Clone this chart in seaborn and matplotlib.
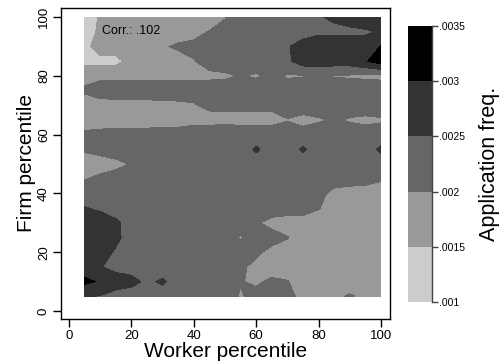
import matplotlib
matplotlib.use("Agg")
import matplotlib.pyplot as plt
import seaborn as sns
import numpy as np

# grid of percentiles (worker on x, firm on y)
worker_pct = [5, 10, 15, 20, 25, 30, 35, 40, 45, 50, 55, 60, 65, 70, 75, 80, 85, 90, 95, 100]
firm_pct = [100, 95, 90, 85, 80, 75, 70, 65, 60, 55, 50, 45, 40, 35, 30, 25, 20, 15, 10, 5]

# application frequency, in units of 1e-4, one row per firm percentile (top row = 100)
freq_e4 = [
    [12.5, 15.5, 17.5, 17.5, 17.5, 17.5, 17.5, 17.5, 17.5, 19.75, 22.5, 22.5, 22.5, 22.5, 22.5, 24.75, 25.5, 26.5, 28.5, 29.0],
    [12.5, 16.0, 17.5, 17.5, 17.5, 17.5, 17.5, 18.5, 20.25, 21.5, 22.5, 22.5, 22.5, 22.5, 22.5, 24.25, 24.25, 24.25, 24.25, 25.5],
    [13.5, 17.5, 17.5, 17.5, 17.5, 19.5, 20.75, 21.25, 22.5, 22.5, 22.5, 22.5, 22.5, 24.5, 27.5, 27.5, 27.5, 27.5, 27.5, 30.25],
    [13.5, 13.5, 13.5, 17.0, 17.5, 17.5, 18.0, 19.75, 21.75, 22.5, 22.5, 22.5, 22.5, 24.0, 27.5, 27.5, 27.5, 27.5, 29.5, 32.5],
    [18.5, 18.75, 18.75, 18.75, 18.75, 18.75, 19.0, 19.0, 19.0, 19.25, 20.25, 19.5, 21.0, 19.5, 19.75, 20.5, 19.75, 19.5, 19.25, 19.0],
    [20.75, 22.5, 22.5, 22.5, 22.5, 22.5, 22.5, 22.5, 22.5, 22.5, 22.5, 22.5, 22.5, 22.5, 22.5, 22.5, 22.5, 22.5, 22.5, 22.5],
    [17.5, 18.0, 18.25, 18.5, 18.5, 18.75, 19.0, 19.5, 21.25, 21.25, 21.0, 21.0, 21.0, 22.5, 22.5, 22.5, 22.5, 22.5, 22.5, 22.5],
    [17.5, 17.5, 17.5, 17.5, 17.5, 17.5, 17.5, 18.0, 18.0, 18.5, 18.5, 18.5, 18.5, 19.75, 18.5, 19.5, 20.5, 19.5, 19.0, 19.5],
    [21.0, 21.5, 22.0, 22.0, 22.0, 22.5, 22.5, 23.5, 23.5, 23.5, 22.5, 22.5, 22.5, 22.5, 22.0, 22.5, 22.5, 22.5, 22.0, 22.0],
    [20.65, 21.5, 22.5, 22.5, 22.5, 22.5, 22.5, 22.5, 22.5, 22.5, 22.5, 25.75, 22.5, 22.5, 25.75, 22.5, 22.5, 22.5, 22.5, 26.0],
    [17.5, 18.0, 18.75, 20.25, 22.5, 22.5, 22.5, 22.5, 22.5, 22.5, 22.5, 22.5, 22.5, 22.5, 22.5, 22.5, 22.5, 22.5, 22.5, 22.5],
    [19.75, 21.0, 22.0, 22.5, 22.5, 22.5, 22.5, 22.5, 22.5, 22.5, 22.5, 22.5, 22.5, 22.5, 22.5, 22.5, 22.5, 22.5, 22.0, 20.5],
    [22.5, 22.5, 22.5, 22.5, 22.5, 22.5, 22.5, 22.5, 22.5, 22.5, 22.5, 22.5, 22.5, 22.5, 22.5, 21.5, 18.5, 17.5, 17.5, 17.5],
    [25.25, 24.25, 23.0, 22.5, 22.5, 22.5, 22.5, 22.5, 22.5, 22.5, 22.5, 22.5, 22.5, 22.5, 22.5, 20.25, 17.5, 17.5, 17.5, 17.5],
    [27.5, 27.5, 25.75, 23.0, 22.5, 22.5, 22.5, 22.5, 22.5, 22.5, 22.5, 20.5, 18.5, 17.5, 17.5, 17.5, 17.5, 17.5, 17.5, 17.5],
    [27.5, 27.5, 26.25, 22.5, 22.5, 22.5, 22.5, 22.5, 19.9, 22.5, 19.5, 22.5, 22.0, 20.25, 17.5, 17.5, 17.5, 17.5, 17.5, 17.5],
    [27.5, 27.5, 24.25, 22.5, 22.5, 22.5, 22.5, 22.5, 22.5, 22.5, 22.5, 21.0, 18.5, 17.5, 17.5, 17.5, 17.5, 17.5, 17.5, 17.5],
    [27.5, 25.25, 23.5, 23.0, 22.5, 22.5, 22.5, 22.5, 22.5, 22.5, 21.0, 18.5, 17.5, 17.5, 17.5, 17.5, 17.5, 17.5, 17.5, 17.5],
    [31.0, 29.5, 27.5, 26.5, 24.0, 25.75, 22.5, 22.5, 22.5, 22.5, 20.25, 19.25, 21.0, 20.25, 17.5, 17.5, 17.5, 17.5, 17.5, 17.5],
    [25.25, 24.75, 23.0, 22.5, 22.5, 22.5, 22.5, 22.5, 22.5, 22.5, 19.5, 21.5, 22.5, 21.5, 18.5, 17.5, 19.0, 20.5, 19.0, 17.5],
]

levels = [.001, .0015, .002, .0025, .003, .0035]
level_labels = ['.001', '.0015', '.002', '.0025', '.003', '.0035']
band_colors = ['#cccccc', '#999999', '#666666', '#333333', '#000000']
corr_text = 'Corr.: .102'

sns.set_style('white')
plt.rcParams['font.family'] = ['Liberation Sans', 'DejaVu Sans']
plt.rcParams['text.color'] = 'black'
plt.rcParams['axes.labelcolor'] = 'black'
plt.rcParams['xtick.color'] = 'black'
plt.rcParams['ytick.color'] = 'black'

fig = plt.figure(figsize=(5.04, 3.64), dpi=100)
ax = fig.add_axes([61 / 504, 1 - 319 / 364, 329 / 504, 311 / 364])

X, Y = np.meshgrid(worker_pct, firm_pct)
Z = np.array(freq_e4) * 1e-4
cs = ax.contourf(X, Y, Z, levels=levels, colors=band_colors)

ax.set_xlim(-2.6, 102.9)
ax.set_ylim(-2.7, 103.1)
ax.set_xticks([0, 20, 40, 60, 80, 100])
ax.set_yticks([0, 20, 40, 60, 80, 100])
ax.tick_params(axis='both', direction='out', length=6, width=1, color='black',
               labelsize=9.5, pad=2, bottom=True, left=True)
for lab in ax.get_yticklabels():
    lab.set_rotation(90)
    lab.set_va('center')
for sp in ax.spines.values():
    sp.set_visible(True)
    sp.set_color('black')
    sp.set_linewidth(1)

ax.set_xlabel('Worker percentile', fontsize=15, labelpad=0)
ax.set_ylabel('Firm percentile', fontsize=15, labelpad=1)
ax.text(10.5, 95.2, corr_text, fontsize=9, va='center', ha='left', color='black')

# colour legend
cax = fig.add_axes([408 / 504, 1 - 302 / 364, 24 / 504, 276 / 364])
cb = fig.colorbar(cs, cax=cax, ticks=levels)
cb.outline.set_visible(False)
cax.spines['right'].set_visible(True)
cax.spines['right'].set_color('#444444')
cax.spines['right'].set_linewidth(1)
cax.set_yticklabels(level_labels)
cax.tick_params(axis='y', direction='out', length=4, width=1, color='#444444',
                labelsize=7.5, pad=1, right=True)
cb.set_label('Application freq.', fontsize=15.5, labelpad=10)

fig.savefig('out.png', dpi=100)
